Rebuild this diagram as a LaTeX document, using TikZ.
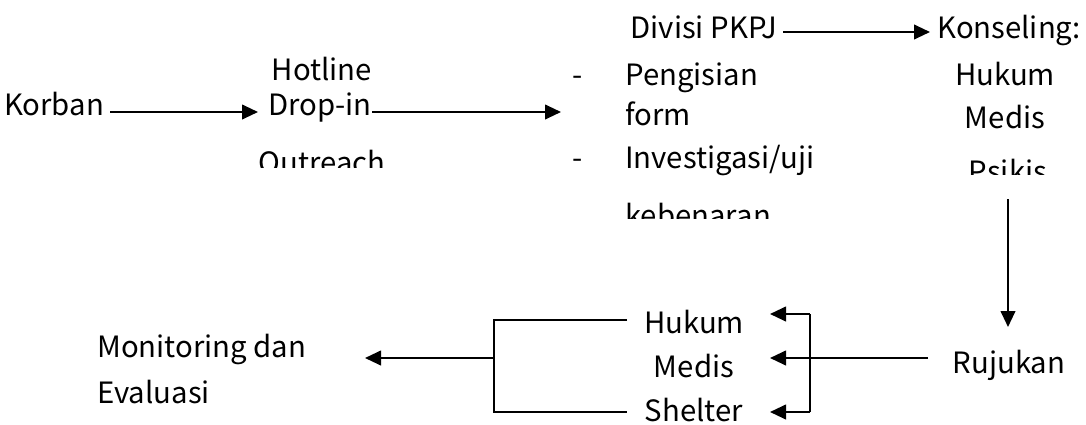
\documentclass[tikz,border=0pt]{standalone}
\usepackage{fontspec}
\setmainfont{Noto Sans CJK SC}
\usepackage{tikz}
\usetikzlibrary{arrows.meta}
\tikzset{
    txt/.style={inner sep=0pt, anchor=base, font=\fontsize{22}{27}\selectfont},
    txtl/.style={txt, anchor=base west},
    arr/.style={line width=1.5pt, -{Triangle[length=12pt,width=11pt]}},
    ln/.style={line width=1.5pt}}

\begin{document}
\begin{tikzpicture}[x=0.75pt,y=-0.75pt]
\useasboundingbox (0,0) rectangle (1086,425);
% top row
\node[txt] (korban) at (54,115) {Korban};
\node[txt] (hotline) at (322,80) {Hotline};
\node[txt] (dropin) at (320,115) {Drop-in};
\begin{scope}
\clip (240,130) rectangle (410,167);
\node[txt] (outreach) at (322,173) {Outreach};
\end{scope}

\node[txt] (pkpj) at (704,38) {Divisi PKPJ};
\node[txt] (dashA) at (578,85) {-};
\node[txtl] (isi) at (625,85) {Pengisian};
\node[txtl] (form) at (625,125) {form};
\node[txt] (dashB) at (578,168) {-};
\node[txtl] (invest) at (625,168) {Investigasi/uji};
\begin{scope}
\clip (600,180) rectangle (860,218);
\node[txtl] (benar) at (625,226) {kebenaran};
\end{scope}

\node[txtl] (konsel) at (937,38) {Konseling:};
\node[txt] (hukumA) at (1005,85) {Hukum};
\node[txt] (medisA) at (1005,128) {Medis};
\begin{scope}
\clip (940,140) rectangle (1080,174);
\node[txt] (psikis) at (1008,182) {Psikis};
\end{scope}

% bottom row
\node[txt] (rujukan) at (1009,373) {Rujukan};
\node[txt] (hukumB) at (694,333) {Hukum};
\node[txt] (medisB) at (694,377) {Medis};
\node[txt] (shelter) at (694,421) {Shelter};
\node[txtl] (monev) at (97,357) {Monitoring dan};
\node[txtl] (evaluasi) at (97,403) {Evaluasi};

% connectors
\coordinate (k1) at (110,112);
\coordinate (k2) at (258,112);
\draw[arr] (k1) -- (k2);
\coordinate (d1) at (372,112);
\coordinate (d2) at (561,112);
\draw[arr] (d1) -- (d2);
\coordinate (p1) at (783,32);
\coordinate (p2) at (930,32);
\draw[arr] (p1) -- (p2);
\coordinate (s1) at (1008,199);
\coordinate (s2) at (1008,327);
\draw[arr] (s1) -- (s2);

\coordinate (r1) at (928,358);
\coordinate (r2) at (770,358);
\draw[arr] (r1) -- (r2);
\coordinate (bt) at (810,314);
\coordinate (bb) at (810,412);
\draw[ln] (bt) -- (bb);
\draw[arr] (bt) -- (770,314);
\draw[arr] (bb) -- (770,412);

\coordinate (lt) at (494,320);
\coordinate (lb) at (494,412);
\coordinate (lm) at (494,358);
\draw[ln] (627,320) -- (lt) -- (lb) -- (627,412);
\draw[arr] (lm) -- (365,358);
\end{tikzpicture}
\end{document}
